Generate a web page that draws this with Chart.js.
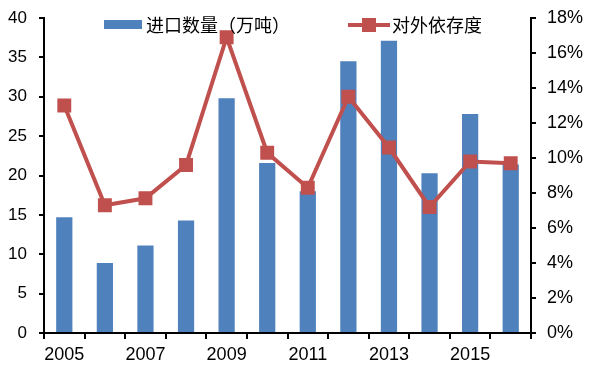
<!DOCTYPE html>
<html>
<head>
<meta charset="utf-8">
<script src="https://cdn.jsdelivr.net/npm/chart.js@4"></script>
<style>
  body { margin: 0; background: #fff; }
  #wrap { width: 594px; height: 373px; }
</style>
</head>
<body>
<div id="wrap"><canvas id="chart" width="594" height="373"></canvas></div>
<script>
// data
const years = ['2005', '2006', '2007', '2008', '2009', '2010', '2011', '2012', '2013', '2014', '2015', '2016'];
const importVolume = [14.7, 8.9, 11.1, 14.3, 29.8, 21.6, 18.0, 34.5, 37.1, 20.3, 27.8, 21.4];
const dependence = [13.0, 7.3, 7.7, 9.6, 16.9, 10.3, 8.3, 13.5, 10.6, 7.2, 9.8, 9.7];
const barLabel = '进口数量（万吨）';
const lineLabel = '对外依存度';

const blue = '#4F81BD';
const red = '#C0504D';
const family = '"Liberation Sans", Arial, sans-serif';

// legend sits inside the plot, drawn by hand
const legendPlugin = {
    id: 'insideLegend',
    afterDraw(chart) {
        const ctx = chart.ctx;
        ctx.save();
        ctx.fillStyle = blue;
        ctx.fillRect(104, 20, 38, 9);
        ctx.strokeStyle = red;
        ctx.lineWidth = 4;
        ctx.beginPath();
        ctx.moveTo(348, 25);
        ctx.lineTo(390, 25);
        ctx.stroke();
        ctx.fillStyle = red;
        ctx.fillRect(362, 18, 14, 14);
        ctx.fillStyle = '#000';
        ctx.font = '18px "Noto Sans CJK SC", sans-serif';
        ctx.textBaseline = 'middle';
        ctx.fillText(barLabel, 146, 25);
        ctx.fillText(lineLabel, 392, 25);
        ctx.restore();
    }
};

// fixed axis sizes so the plot box lands where the reference has it
function fixWidth(w) {
    return s => {
        s.width = w;
        s.paddingTop = 0;
        s.paddingBottom = 0;
    };
}

const ctx = document.getElementById('chart').getContext('2d');
new Chart(ctx, {
    data: {
        labels: years,
        datasets: [{
            type: 'line',
            label: lineLabel,
            data: dependence,
            yAxisID: 'y1',
            borderColor: red,
            backgroundColor: red,
            borderWidth: 4,
            pointStyle: 'rect',
            pointRadius: 7,
            pointHoverRadius: 7,
            tension: 0,
            order: 0
        }, {
            type: 'bar',
            label: barLabel,
            data: importVolume,
            yAxisID: 'y',
            backgroundColor: blue,
            barPercentage: 0.4,
            categoryPercentage: 1,
            order: 1
        }]
    },
    options: {
        responsive: false,
        animation: false,
        layout: { padding: { top: 18, left: 0, right: 0, bottom: 0 } },
        plugins: {
            legend: { display: false },
            tooltip: { enabled: false }
        },
        scales: {
            x: {
                offset: true,
                grid: { offset: true, drawOnChartArea: false, color: '#000', lineWidth: 2, tickLength: 6 },
                border: { color: '#000', width: 2 },
                ticks: {
                    autoSkip: false,
                    maxRotation: 0,
                    color: '#000',
                    font: { family: family, size: 18 },
                    padding: 5,
                    callback: (v, i) => i % 2 === 0 ? years[i] : ''
                },
                afterFit: s => { s.height = 40; }
            },
            y: {
                position: 'left',
                min: 0,
                max: 40,
                ticks: { stepSize: 5, color: '#000', font: { family: family, size: 17 }, padding: 12 },
                grid: { drawOnChartArea: false, color: '#000', lineWidth: 2, tickLength: 5 },
                border: { color: '#000', width: 2 },
                afterFit: fixWidth(44)
            },
            y1: {
                position: 'right',
                min: 0,
                max: 18,
                ticks: { stepSize: 2, color: '#000', font: { family: family, size: 18 }, padding: 11, callback: v => v + '%' },
                grid: { drawOnChartArea: false, color: '#000', lineWidth: 2, tickLength: 5 },
                border: { color: '#000', width: 2 },
                afterFit: fixWidth(63)
            }
        }
    },
    plugins: [legendPlugin]
});
</script>
</body>
</html>
